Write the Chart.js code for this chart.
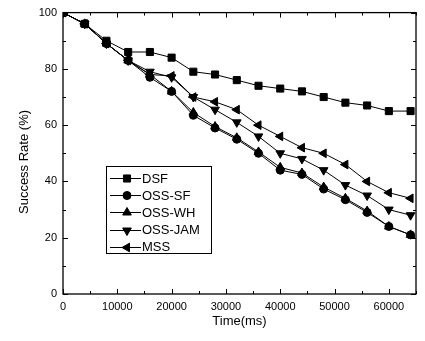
<!DOCTYPE html>
<html><head><meta charset="utf-8">
<script src="https://cdn.jsdelivr.net/npm/chart.js@4/dist/chart.umd.min.js"></script>
<style>html,body{margin:0;padding:0;background:#fff}#wrap{width:425px;height:341px;position:relative}</style>
</head><body><div id="wrap"><canvas id="c" width="425" height="341"></canvas></div>
<script>
// ---- data ----
const times  = [0,4000,8000,12000,16000,20000,24000,28000,32000,36000,40000,44000,48000,52000,56000,60000,64000];
const dsf    = [100,96,90,86,86,84,79,78,76,74,73,72,70,68,67,65,65];
const ossSF  = [100,96,89,83,77,72,63.5,59,55,50,44,42.5,37.3,33.5,29,24,21];
const ossWH  = [100,96,89,83,78,72,64.5,59.5,55.5,50.5,45,43,38,34,29.5,24,21];
const ossJAM = [100,96,89,83,79,77,70,65.5,61,56,50,48,44,38.7,35,30,28];
const mss    = [100,96,89,83,78,77.5,70,68.3,65.5,60,56,52,50,46,40,36,34];
const seriesNames = ['DSF','OSS-SF','OSS-WH','OSS-JAM','MSS'];
const xTicks = [0,10000,20000,30000,40000,50000,60000];
const yTicks = [0,20,40,60,80,100];
const xTitle = 'Time(ms)';
const yTitle = 'Success Rate (%)';

const FONT = '"Liberation Sans", Arial, sans-serif';
const styles = [
  {pointStyle:'rect', radius:5, rotation:0},
  {pointStyle:'circle', radius:4, rotation:0},
  {pointStyle:'triangle', radius:5, rotation:0},
  {pointStyle:'triangle', radius:5, rotation:180},
  {pointStyle:'triangle', radius:5, rotation:270}
];
const allData = [dsf, ossSF, ossWH, ossJAM, mss];

const datasets = allData.map((arr,i)=>({
  label: seriesNames[i],
  data: times.map((t,j)=>({x:t, y:arr[j]})),
  borderColor:'#000', backgroundColor:'#000', borderWidth:1,
  pointStyle: styles[i].pointStyle, pointRadius: styles[i].radius,
  pointRotation: styles[i].rotation, pointBorderWidth:1,
  pointBackgroundColor:'#000', pointBorderColor:'#000',
  tension:0, fill:false
}));

function drawMarker(ctx, st, x, y){
  if (Chart.helpers && Chart.helpers.drawPoint) {
    ctx.fillStyle='#000'; ctx.strokeStyle='#000'; ctx.lineWidth=1;
    Chart.helpers.drawPoint(ctx, {pointStyle:st.pointStyle, rotation:st.rotation, radius:st.radius, borderWidth:1}, x, y);
    return;
  }
  ctx.beginPath();
  if (st.pointStyle==='circle') ctx.arc(x,y,st.radius,0,Math.PI*2);
  else if (st.pointStyle==='rect'){const s=st.radius*Math.SQRT1_2; ctx.rect(x-s,y-s,2*s,2*s);}
  else { let r=st.rotation*Math.PI/180; for(let k=0;k<3;k++){const a=r+k*2*Math.PI/3; const px=x+Math.sin(a)*st.radius, py=y-Math.cos(a)*st.radius; k?ctx.lineTo(px,py):ctx.moveTo(px,py);} ctx.closePath(); }
  ctx.fillStyle='#000'; ctx.fill(); ctx.stroke();
}

const deco = {
  id:'deco',
  afterDraw(chart){
    const {ctx, chartArea:a, scales:{x,y}} = chart;
    ctx.save();
    ctx.strokeStyle='#000'; ctx.lineWidth=1.3;
    ctx.strokeRect(a.left, a.top, a.right-a.left, a.bottom-a.top);
    ctx.lineWidth=1;
    // x ticks (major + minor), bottom and top, inward
    for (let v=0; v<=x.max; v+=5000){
      const px = Math.round(x.getPixelForValue(v))+0.5;
      const len = (v%10000===0)?5:3;
      ctx.beginPath();
      ctx.moveTo(px,a.bottom); ctx.lineTo(px,a.bottom-len);
      ctx.moveTo(px,a.top); ctx.lineTo(px,a.top+len);
      ctx.stroke();
    }
    for (let v=0; v<=y.max; v+=10){
      const py = Math.round(y.getPixelForValue(v))+0.5;
      const len = (v%20===0)?5:3;
      ctx.beginPath();
      ctx.moveTo(a.left,py); ctx.lineTo(a.left+len,py);
      ctx.moveTo(a.right,py); ctx.lineTo(a.right-len,py);
      ctx.stroke();
    }
    // axis titles
    ctx.fillStyle='#000';
    ctx.font = '13px '+FONT;
    ctx.textAlign='center'; ctx.textBaseline='middle';
    ctx.fillText(xTitle, (a.left+a.right)/2, 321);
    ctx.save();
    ctx.translate(24, 162); ctx.rotate(-Math.PI/2);
    ctx.fillText(yTitle, 0, 0);
    ctx.restore();
    // legend
    const bx=106, by=166, bw=105, bh=87;
    ctx.lineWidth=1;
    ctx.strokeRect(bx+0.5, by+0.5, bw, bh);
    ctx.font='13px '+FONT; ctx.textAlign='left'; ctx.textBaseline='middle';
    chart.data.datasets.forEach((ds,i)=>{
      const cy = 178 + i*17.2;
      ctx.strokeStyle='#000'; ctx.lineWidth=1;
      ctx.beginPath(); ctx.moveTo(110, Math.round(cy)+0.5); ctx.lineTo(141, Math.round(cy)+0.5); ctx.stroke();
      drawMarker(ctx, styles[i], 127, Math.round(cy)+0.5);
      ctx.fillStyle='#000';
      ctx.fillText(ds.label, 142, cy+1);
    });
    ctx.restore();
  }
};

new Chart(document.getElementById('c'), {
  type:'line',
  data:{datasets},
  options:{
    responsive:false, animation:false, events:[],
    layout:{padding:{top:10, right:9, left:0, bottom:0}},
    plugins:{legend:{display:false}, tooltip:{enabled:false}},
    scales:{
      x:{type:'linear', min:0, max:65000,
        grid:{display:false, drawTicks:false}, border:{display:false},
        afterBuildTicks(s){ s.ticks = xTicks.map(v=>({value:v})); },
        afterFit(s){ s.height = 47; },
        ticks:{padding:6, color:'#000', maxRotation:0, autoSkip:false, font:{family:FONT, size:11}, callback:v=>String(v)}
      },
      y:{type:'linear', min:0, max:100,
        grid:{display:false, drawTicks:false}, border:{display:false},
        afterBuildTicks(s){ s.ticks = yTicks.map(v=>({value:v})); },
        afterFit(s){ s.width = 63; },
        ticks:{padding:6, color:'#000', autoSkip:false, font:{family:FONT, size:11}}
      }
    }
  },
  plugins:[deco]
});
</script>
</body></html>
